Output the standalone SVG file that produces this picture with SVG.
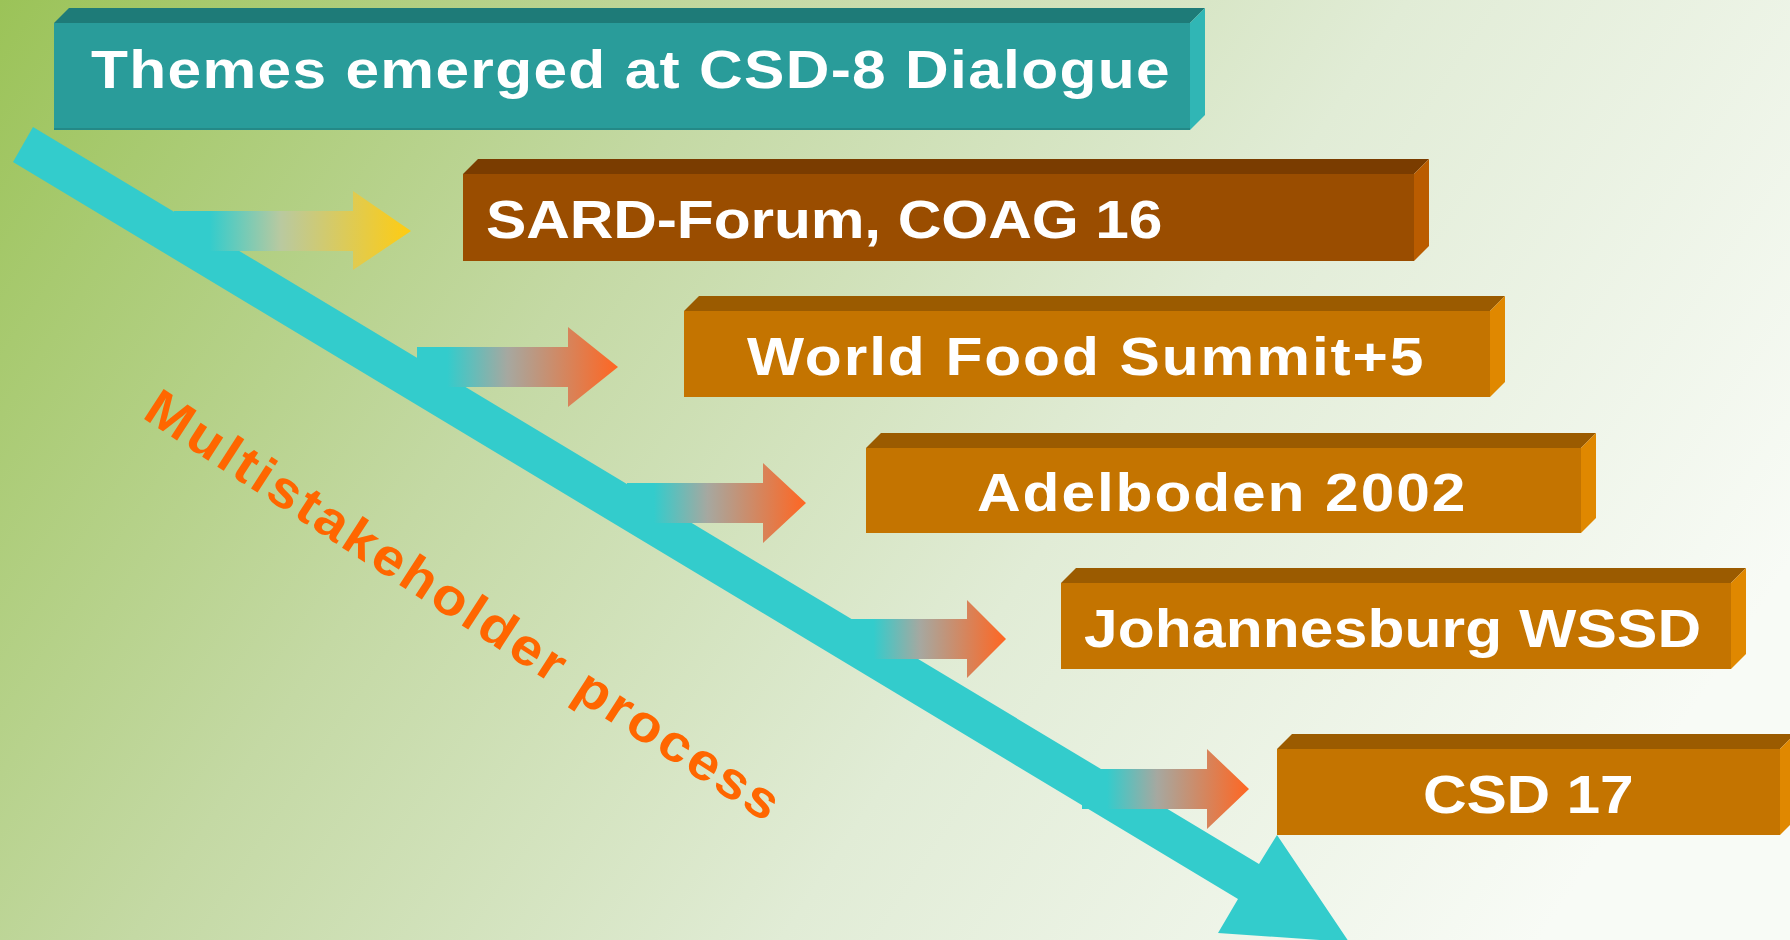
<svg xmlns="http://www.w3.org/2000/svg" width="1790" height="940" viewBox="0 0 1790 940">
<defs>
  <linearGradient id="bg" gradientUnits="userSpaceOnUse" x1="0" y1="0" x2="1500" y2="1000">
    <stop offset="0" stop-color="#9BC358"/>
    <stop offset="0.35" stop-color="#C4D9A4"/>
    <stop offset="0.65" stop-color="#E1ECD6"/>
    <stop offset="1" stop-color="#F8FBF6"/>
  </linearGradient>
  <linearGradient id="gy" x1="0" y1="0" x2="1" y2="0">
    <stop offset="0" stop-color="#33CCCC"/>
    <stop offset="0.15" stop-color="#33CCCC"/>
    <stop offset="0.45" stop-color="#B9C9A0"/>
    <stop offset="1" stop-color="#FFCC11"/>
  </linearGradient>
  <linearGradient id="go" x1="0" y1="0" x2="1" y2="0">
    <stop offset="0" stop-color="#33CCCC"/>
    <stop offset="0.15" stop-color="#33CCCC"/>
    <stop offset="0.45" stop-color="#A6A8A0"/>
    <stop offset="1" stop-color="#FF6622"/>
  </linearGradient>
  <style>
    .lbl{font-family:"Liberation Sans",Arial,sans-serif;font-weight:bold;font-size:54px;fill:#FFFFFF}
    .ms{font-family:"Liberation Sans",Arial,sans-serif;font-weight:bold;font-size:52px;fill:#FF6600}
    .tf1{fill:#1E7B78}.ff1{fill:#299C9A}.rf1{fill:#30B6B5}
    .tf2{fill:#7A3C00}.ff2{fill:#9A4D00}.rf2{fill:#BA5C00}
    .tf3{fill:#9B5B00}.ff3{fill:#C47400}.rf3{fill:#E08800}
    .edge{fill:none;stroke:#000;stroke-opacity:0.12;stroke-width:2}
  </style>
</defs>
<rect width="1790" height="940" fill="url(#bg)"/>

<g id="connectors">
  <polygon id="main-arrow" fill="#33CCCC" points="33,127 1259,864 1277,835 1349,942 1218,933 1238,899 13,162"/>
  <polygon fill="url(#gy)" points="174,211 353,211 353,191 411,231 353,270 353,251 174,251"/>
  <polygon fill="url(#go)" points="417,347 568,347 568,327 618,367 568,407 568,387 417,387"/>
  <polygon fill="url(#go)" points="627,483 763,483 763,463 806,503 763,543 763,523 627,523"/>
  <polygon fill="url(#go)" points="850,619 967,619 967,600 1006,639 967,678 967,659 850,659"/>
  <polygon fill="url(#go)" points="1082,769 1207,769 1207,749 1249,789 1207,829 1207,809 1082,809"/>
</g>

<g id="node-themes">
  <polygon class="tf1" points="54,23 69,8 1205,8 1190,23"/>
  <rect class="ff1" x="54" y="23" width="1136" height="107"/>
  <polygon class="rf1" points="1190,23 1205,8 1205,115 1190,130"/>
  <line class="edge" x1="54" y1="129" x2="1190" y2="129"/>
  <text class="lbl" transform="translate(91 88) scale(1.12 1)" x="0" y="0" textLength="963" lengthAdjust="spacing">Themes emerged at CSD-8 Dialogue</text>
</g>

<g id="node-sard">
  <polygon class="tf2" points="463,174 478,159 1429,159 1414,174"/>
  <rect class="ff2" x="463" y="174" width="951" height="87"/>
  <polygon class="rf2" points="1414,174 1429,159 1429,246 1414,261"/>
  <text class="lbl" transform="translate(486 238) scale(1.12 1)" x="0" y="0" textLength="604" lengthAdjust="spacing">SARD-Forum, COAG 16</text>
</g>

<g id="node-wfs">
  <polygon class="tf3" points="684,311 699,296 1505,296 1490,311"/>
  <rect class="ff3" x="684" y="311" width="806" height="86"/>
  <polygon class="rf3" points="1490,311 1505,296 1505,382 1490,397"/>
  <text class="lbl" transform="translate(747 375) scale(1.12 1)" x="0" y="0" textLength="604" lengthAdjust="spacing">World Food Summit+5</text>
</g>

<g id="node-adelboden">
  <polygon class="tf3" points="866,448 881,433 1596,433 1581,448"/>
  <rect class="ff3" x="866" y="448" width="715" height="85"/>
  <polygon class="rf3" points="1581,448 1596,433 1596,518 1581,533"/>
  <text class="lbl" transform="translate(977 511) scale(1.12 1)" x="0" y="0" textLength="436" lengthAdjust="spacing">Adelboden 2002</text>
</g>

<g id="node-johannesburg">
  <polygon class="tf3" points="1061,583 1076,568 1746,568 1731,583"/>
  <rect class="ff3" x="1061" y="583" width="670" height="86"/>
  <polygon class="rf3" points="1731,583 1746,568 1746,654 1731,669"/>
  <text class="lbl" transform="translate(1084 647) scale(1.12 1)" x="0" y="0" textLength="551" lengthAdjust="spacing">Johannesburg WSSD</text>
</g>

<g id="node-csd17">
  <polygon class="tf3" points="1277,749 1292,734 1795,734 1780,749"/>
  <rect class="ff3" x="1277" y="749" width="503" height="86"/>
  <polygon class="rf3" points="1780,749 1795,734 1795,820 1780,835"/>
  <text class="lbl" transform="translate(1423 813) scale(1.12 1)" x="0" y="0" textLength="188" lengthAdjust="spacing">CSD 17</text>
</g>

<g id="label-multistakeholder">
  <text class="ms" transform="translate(141 417) rotate(33) scale(1.08 1)" x="0" y="0" textLength="690" lengthAdjust="spacing">Multistakeholder process</text>
</g>
</svg>
